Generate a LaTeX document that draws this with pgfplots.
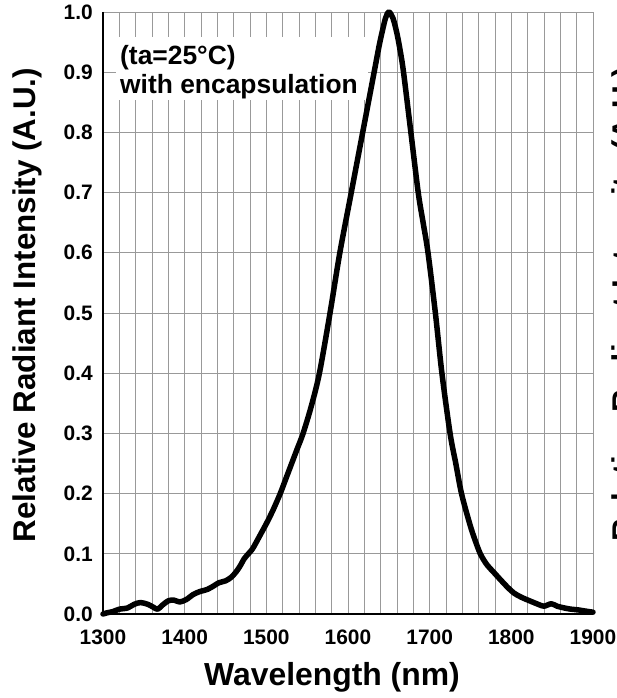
\documentclass[border=0pt]{standalone}
\usepackage{fontspec}
\setmainfont{Liberation Sans}
\usepackage{pgfplots}
\pgfplotsset{compat=1.18}
\usepackage{pgfplotstable}

\pgfplotstableread{
wl   rel
1300 0.000
1305 0.002
1312 0.004
1320 0.008
1330 0.010
1338 0.016
1346 0.019
1355 0.016
1362 0.011
1367 0.008
1373 0.015
1380 0.022
1387 0.023
1394 0.020
1402 0.024
1410 0.032
1418 0.037
1428 0.041
1436 0.047
1442 0.052
1450 0.055
1457 0.061
1463 0.070
1468 0.080
1473 0.092
1478 0.100
1483 0.108
1488 0.120
1494 0.135
1500 0.150
1508 0.172
1517 0.200
1524 0.225
1531 0.250
1538 0.275
1545 0.300
1555 0.345
1565 0.400
1578 0.500
1590 0.600
1604 0.700
1618 0.800
1632 0.900
1638 0.943
1642 0.968
1646 0.990
1650 1.000
1655 0.990
1660 0.964
1664 0.935
1668 0.900
1677 0.800
1686 0.700
1692 0.650
1698 0.600
1707 0.500
1715 0.400
1725 0.300
1732 0.250
1739 0.200
1749 0.150
1755 0.125
1762 0.100
1770 0.082
1778 0.070
1786 0.058
1795 0.045
1803 0.035
1812 0.028
1824 0.021
1833 0.016
1840 0.013
1849 0.017
1856 0.013
1865 0.010
1873 0.008
1881 0.007
1890 0.005
1900 0.003
}\spectrum

\begin{document}
\begin{tikzpicture}
\begin{axis}[
  name=main,
  width=490bp, height=602bp, scale only axis,
  xmin=1300, xmax=1900, ymin=0, ymax=1,
  xtick={1300,1400,1500,1600,1700,1800,1900},
  ytick={0,0.1,0.2,0.3,0.4,0.5,0.6,0.7,0.8,0.9,1.0},
  minor x tick num=4,
  xmajorgrids, xminorgrids, ymajorgrids,
  major grid style={black!40, line width=0.9bp},
  minor grid style={black!40, line width=0.9bp},
  major tick length=0pt, minor tick length=0pt,
  axis line style={draw=none},
  /pgf/number format/assume math mode=true,
  xticklabel style={/pgf/number format/1000 sep={}, anchor=north, yshift=-16bp},
  yticklabel style={/pgf/number format/fixed, /pgf/number format/fixed zerofill,
    /pgf/number format/precision=1, anchor=east, xshift=-10bp},
  tick label style={font=\bfseries\fontsize{21}{22}\selectfont, inner sep=0pt},
  clip=false,
]
  \fill[white] (axis cs:1315.9,0.8538) rectangle (axis cs:1624.5,0.9585);
  \node[anchor=base west, inner sep=0pt, font=\bfseries\fontsize{26.5}{28}\selectfont]
    at (axis cs:1320.8,0.912) {(ta=25°C)};
  \node[anchor=base west, inner sep=0pt, font=\bfseries\fontsize{26.5}{28}\selectfont]
    at (axis cs:1320.8,0.8654) {with encapsulation};
  \draw[black, line width=1.2bp] (rel axis cs:0,1) -- (rel axis cs:0,0) -- (rel axis cs:1,0);
  \addplot[black, line width=5.5bp, smooth, tension=0.5, line join=round, line cap=round] table[x=wl, y=rel] {\spectrum};
\end{axis}
\node[anchor=base, inner sep=0pt, font=\bfseries\fontsize{32}{34}\selectfont]
  at ([shift={(229bp,-71bp)}]main.south west) {Wavelength (nm)};
\node[anchor=base, rotate=90, inner sep=0pt, font=\bfseries\fontsize{31.5}{34}\selectfont]
  at ([shift={(-67bp,309bp)}]main.south west) {Relative Radiant Intensity (A.U.)};
% second label of a neighbouring chart, mostly cut off by the right edge
\node[overlay, anchor=north, rotate=90, inner sep=0pt, font=\bfseries\fontsize{31.5}{34}\selectfont]
  at ([shift={(509bp,310bp)}]main.south west) {Relative Radiant Intensity (A.U.)};
\pgfresetboundingbox
\path[use as bounding box] ([shift={(-103bp,-84bp)}]main.south west) rectangle ([shift={(514bp,614bp)}]main.south west);
\end{tikzpicture}
\end{document}
